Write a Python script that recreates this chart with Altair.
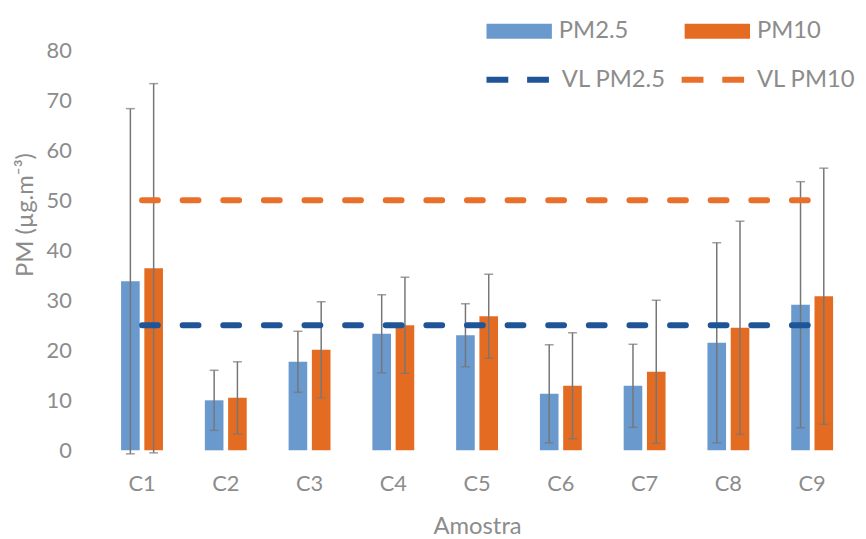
import altair as alt
import pandas as pd

amostras = ["C1", "C2", "C3", "C4", "C5", "C6", "C7", "C8", "C9"]
pm25_mean = [33.8, 10.0, 17.7, 23.3, 23.0, 11.3, 12.9, 21.5, 29.1]
pm25_sd = [34.5, 6.0, 6.1, 7.8, 6.3, 9.8, 8.3, 20.0, 24.6]
pm10_mean = [36.4, 10.5, 20.1, 25.0, 26.8, 12.9, 15.7, 24.5, 30.8]
pm10_sd = [36.9, 7.2, 9.6, 9.6, 8.4, 10.6, 14.3, 21.3, 25.6]
vl_pm25 = 25
vl_pm10 = 50
y_ticks = [0, 10, 20, 30, 40, 50, 60, 70, 80]

bar_series = ["PM2.5", "PM10"]
line_series = ["VL PM2.5", "VL PM10"]
bar_colors = ["#6A99CD", "#E46C22"]
line_colors = ["#1F5596", "#E8702A"]

rows = []
for i, a in enumerate(amostras):
    for s, m, sd in (("PM2.5", pm25_mean[i], pm25_sd[i]), ("PM10", pm10_mean[i], pm10_sd[i])):
        rows.append({"Amostra": a, "serie": s, "valor": m, "lo": m - sd, "hi": m + sd})
bars_df = pd.DataFrame(rows)

lrows = []
for a in amostras:
    lrows.append({"Amostra": a, "serie": "VL PM2.5", "valor": vl_pm25})
    lrows.append({"Amostra": a, "serie": "VL PM10", "valor": vl_pm10})
lines_df = pd.DataFrame(lrows)

FONT = "Lato"
GREY = "#8C8C8C"

x_enc = alt.X("Amostra:N", sort=amostras,
              scale=alt.Scale(paddingInner=0.5, paddingOuter=0.25),
              axis=alt.Axis(title="Amostra", labelAngle=0, labelPadding=24,
                            titlePadding=20))
y_scale = alt.Scale(domain=[0, 80], nice=False)
y_axis = alt.Axis(title="PM (µg.m⁻³)", values=y_ticks, labelPadding=29,
                  titleX=-75, titleY=166, titleAngle=-90,
                  titleAlign="center", titleBaseline="middle")
xoff = alt.XOffset("serie:N", sort=bar_series, scale=alt.Scale(paddingInner=0.2))

bars = alt.Chart(bars_df).mark_bar().encode(
    x=x_enc,
    xOffset=xoff,
    y=alt.Y("valor:Q", scale=y_scale, axis=y_axis),
    fill=alt.Fill("serie:N", sort=bar_series,
                  scale=alt.Scale(domain=bar_series, range=bar_colors),
                  legend=alt.Legend(title=None, orient="none", legendX=390, legendY=-52,
                                    direction="horizontal", columnPadding=56,
                                    symbolType="M-1,-0.23H1V0.23H-1Z", symbolSize=4356,
                                    symbolStrokeWidth=0, labelOffset=7)),
)

err = alt.Chart(bars_df).mark_rule(color="#767676", strokeWidth=1.5).encode(
    x=alt.X("Amostra:N", sort=amostras),
    xOffset=xoff,
    y=alt.Y("lo:Q", scale=y_scale),
    y2="hi:Q",
)
cap_hi = alt.Chart(bars_df).mark_tick(color="#767676", thickness=1.5, size=9).encode(
    x=alt.X("Amostra:N", sort=amostras),
    xOffset=xoff,
    y=alt.Y("hi:Q", scale=y_scale),
)
cap_lo = alt.Chart(bars_df).mark_tick(color="#767676", thickness=1.5, size=9).encode(
    x=alt.X("Amostra:N", sort=amostras),
    xOffset=xoff,
    y=alt.Y("lo:Q", scale=y_scale),
)

lines = alt.Chart(lines_df).mark_line(strokeWidth=6, strokeDash=[16, 25], strokeCap="round").encode(
    x=alt.X("Amostra:N", sort=amostras),
    y=alt.Y("valor:Q", scale=y_scale),
    stroke=alt.Stroke("serie:N", sort=line_series,
                      scale=alt.Scale(domain=line_series, range=line_colors),
                      legend=alt.Legend(title=None, orient="none", legendX=387, legendY=-5,
                                        direction="horizontal", columnPadding=4,
                                        symbolType="stroke", symbolSize=4096,
                                        symbolStrokeWidth=6, symbolDash=[22, 19],
                                        labelOffset=9)),
    detail="serie:N",
)

chart = alt.layer(bars, err, cap_hi, cap_lo, lines).properties(
    width=761, height=404,
    autosize=alt.AutoSizeParams(type="none"),
    padding={"left": 93, "top": 40, "right": 4, "bottom": 87},
).configure_view(stroke=None).configure_axis(
    grid=False, domain=False, ticks=False,
    labelFont=FONT, titleFont=FONT, labelFontSize=22, titleFontSize=24,
    labelColor=GREY, titleColor=GREY, titleFontWeight="normal",
).configure_legend(
    labelFont=FONT, labelFontSize=24, labelColor=GREY, padding=0,
)

chart.save("out.html", embed_options={"renderer": "svg", "actions": False})
